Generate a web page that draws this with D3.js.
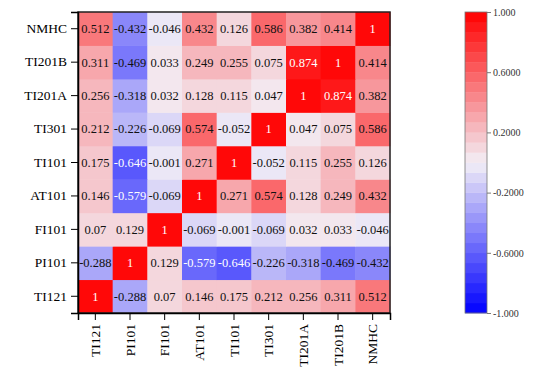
<!DOCTYPE html>
<html>
<head>
<meta charset="utf-8">
<script src="https://cdn.jsdelivr.net/npm/d3@7"></script>
<style>
  body { margin: 0; background: #fff; }
  text { font-family: "Liberation Serif", "Times New Roman", serif; }
</style>
</head>
<body>
<div id="heatmap"></div>
<script>
// variables, column order (left to right); rows are drawn bottom to top in the same order
var vars = ["TI121", "PI101", "FI101", "AT101", "TI101", "TI301", "TI201A", "TI201B", "NMHC"];

// correlation matrix rows, same order as vars
var rowTI121  = [1, -0.288, 0.07, 0.146, 0.175, 0.212, 0.256, 0.311, 0.512];
var rowPI101  = [-0.288, 1, 0.129, -0.579, -0.646, -0.226, -0.318, -0.469, -0.432];
var rowFI101  = [0.07, 0.129, 1, -0.069, -0.001, -0.069, 0.032, 0.033, -0.046];
var rowAT101  = [0.146, -0.579, -0.069, 1, 0.271, 0.574, 0.128, 0.249, 0.432];
var rowTI101  = [0.175, -0.646, -0.001, 0.271, 1, -0.052, 0.115, 0.255, 0.126];
var rowTI301  = [0.212, -0.226, -0.069, 0.574, -0.052, 1, 0.047, 0.075, 0.586];
var rowTI201A = [0.256, -0.318, 0.032, 0.128, 0.115, 0.047, 1, 0.874, 0.382];
var rowTI201B = [0.311, -0.469, 0.033, 0.249, 0.255, 0.075, 0.874, 1, 0.414];
var rowNMHC   = [0.512, -0.432, -0.046, 0.432, 0.126, 0.586, 0.382, 0.414, 1];

var matrix = [rowTI121, rowPI101, rowFI101, rowAT101, rowTI101, rowTI301, rowTI201A, rowTI201B, rowNMHC];

// colour bar ticks
var barTicks = [1, 0.6, 0.2, -0.2, -0.6, -1];
var barTickLabels = ["1.000", "0.6000", "0.2000", "-0.2000", "-0.6000", "-1.000"];
var nLevels = 30;

drawHeatmap();
function drawHeatmap(){
    var width = 550, height = 370;
    var plot = {left: 78, top: 12, right: 390, bottom: 313};

    var svg = d3.select("#heatmap")
        .append("svg")
        .attr("width", width)
        .attr("height", height);

    var x = d3.scaleBand().domain(vars).range([plot.left, plot.right]);
    var y = d3.scaleBand().domain(vars).range([plot.bottom, plot.top]);

    // blue - white - red, cut into levels like the colour bar
    var color = d3.scaleLinear()
        .domain([-1, 0, 1])
        .range(["#0000ff", "#f3eff6", "#ff0000"])
        .interpolate(d3.interpolateRgb);
    var step = 2 / nLevels;
    function levelColor(v){
        var i = Math.min(nLevels - 1, Math.floor((v + 1) / step));
        return color(-1 + (i + 0.5) * step);
    }

    var cells = [];
    matrix.forEach(function(row, r){
        row.forEach(function(v, c){
            cells.push({row: vars[r], col: vars[c], value: v});
        });
    });

    svg.append("g")
        .selectAll("rect")
        .data(cells)
        .enter()
        .append("rect")
        .attr("x", function(d){ return x(d.col); })
        .attr("y", function(d){ return y(d.row); })
        .attr("width", x.bandwidth() + 0.5)
        .attr("height", y.bandwidth() + 0.5)
        .style("fill", function(d){ return levelColor(d.value); });

    svg.append("g")
        .selectAll("text")
        .data(cells)
        .enter()
        .append("text")
        .attr("x", function(d){ return x(d.col) + x.bandwidth() / 2; })
        .attr("y", function(d){ return y(d.row) + y.bandwidth() / 2; })
        .attr("dy", "0.35em")
        .attr("text-anchor", "middle")
        .attr("font-size", 12.5)
        .style("fill", function(d){ return (d.value > 0.6 || d.value < -0.5) ? "#fff" : "#111"; })
        .text(function(d){ return d.value; });

    // frame
    svg.append("rect")
        .attr("x", plot.left)
        .attr("y", plot.top)
        .attr("width", plot.right - plot.left)
        .attr("height", plot.bottom - plot.top)
        .style("fill", "none")
        .style("stroke", "#222")
        .style("stroke-width", 1.5);

    // Y axis
    var yAxis = svg.append("g")
        .attr("transform", "translate(" + plot.left + ",0)")
        .call(d3.axisLeft(y).tickSize(7).tickPadding(4));
    yAxis.select(".domain").attr("stroke-width", 1.5);
    yAxis.selectAll("text")
        .attr("font-size", 13.5)
        .style("fill", "#000");

    // X axis
    var xAxis = svg.append("g")
        .attr("transform", "translate(0," + plot.bottom + ")")
        .call(d3.axisBottom(x).tickSize(7).tickPadding(4));
    xAxis.select(".domain").attr("stroke-width", 1.5);
    xAxis.selectAll("text")
        .attr("font-size", 13.5)
        .style("fill", "#000")
        .attr("text-anchor", "end")
        .attr("transform", "rotate(-90)")
        .attr("x", -11)
        .attr("y", 0)
        .attr("dy", "0.35em");

    // colour bar
    var bar = {left: 465, right: 487, top: 12, bottom: 313};
    var yc = d3.scaleLinear().domain([-1, 1]).range([bar.bottom, bar.top]);
    var levels = d3.range(nLevels).map(function(i){ return -1 + i * step; });

    svg.append("g")
        .selectAll("rect")
        .data(levels)
        .enter()
        .append("rect")
        .attr("x", bar.left)
        .attr("y", function(d){ return yc(d + step); })
        .attr("width", bar.right - bar.left)
        .attr("height", function(d){ return yc(d) - yc(d + step) + 0.3; })
        .style("fill", function(d){ return color(d + step / 2); });

    svg.append("rect")
        .attr("x", bar.left)
        .attr("y", bar.top)
        .attr("width", bar.right - bar.left)
        .attr("height", bar.bottom - bar.top)
        .style("fill", "none")
        .style("stroke", "#777")
        .style("stroke-width", 0.8);

    var barAxis = svg.append("g")
        .attr("transform", "translate(" + bar.right + ",0)")
        .call(d3.axisRight(yc)
            .tickValues(barTicks)
            .tickSize(4)
            .tickPadding(2)
            .tickFormat(function(d, i){ return barTickLabels[i]; }));
    barAxis.select(".domain").remove();
    barAxis.selectAll("line").style("stroke", "#777");
    barAxis.selectAll("text")
        .attr("font-size", 10)
        .style("fill", "#333");
}
</script>
</body>
</html>
